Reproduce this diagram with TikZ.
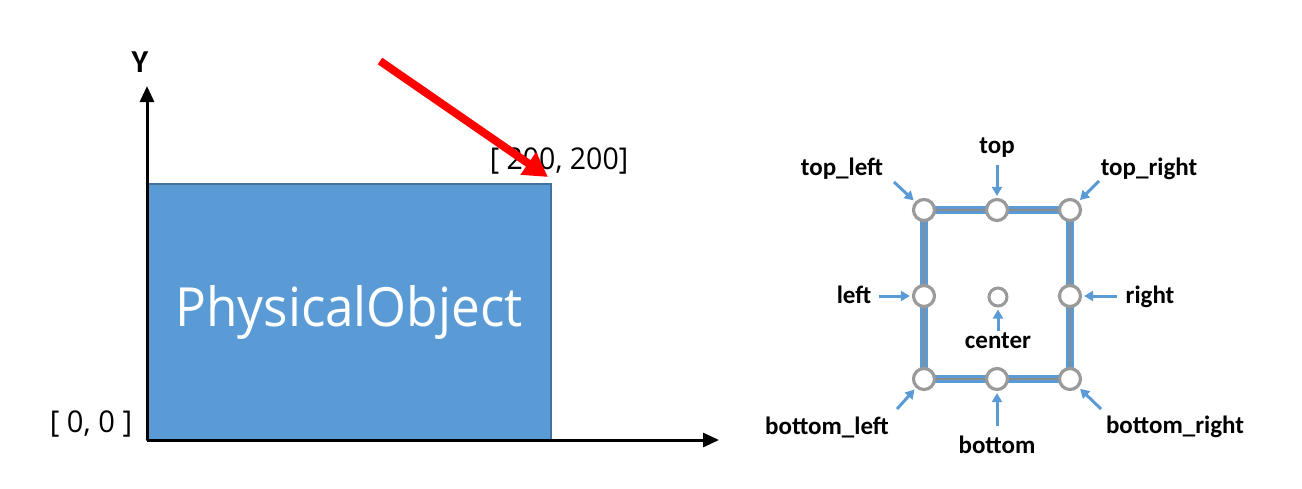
\documentclass[tikz,border=0pt]{standalone}
\usepackage{fontspec}
\setmainfont{Open Sans}
\newfontfamily\lblfont{Carlito}
\usetikzlibrary{arrows.meta,backgrounds}
\definecolor{objblue}{HTML}{5B9BD5}
\definecolor{objedge}{HTML}{41719C}
\definecolor{ptgray}{HTML}{9A9A9A}
\definecolor{edgegray}{HTML}{8C8C8C}
\tikzset{
  axis/.style={line width=3pt,-{Triangle[length=16pt,width=14pt]}},
  objbox/.style={draw=objedge,line width=1.5pt,fill=objblue,inner sep=0pt},
  redarrow/.style={draw=red,line width=8pt,-{Triangle[length=24pt,width=26pt]}},
  anchorpt/.style={circle,draw=ptgray,line width=3.2pt,fill=white,minimum size=21pt,inner sep=0pt},
  smallpt/.style={circle,draw=ptgray,line width=3pt,fill=white,minimum size=18pt,inner sep=0pt},
  lbl/.style={font=\lblfont\bfseries\fontsize{25pt}{28pt}\selectfont,inner sep=0pt},
  barrow/.style={draw=objblue,line width=3pt,-{Triangle[length=9pt,width=10pt]},shorten >=2pt},
  coordtxt/.style={font=\fontsize{30pt}{34pt}\selectfont,inner sep=0pt}
}
\begin{document}
\begin{tikzpicture}[x=1pt,y=-1pt]
\useasboundingbox (0,0) rectangle (1302,488);
% ---------- left diagram ----------
\node[objbox,minimum width=404pt,minimum height=256pt] (obj) at (349,312)
  {\color{white}\fontsize{54pt}{60pt}\selectfont\scalebox{0.95}[1]{PhysicalObject}};
\coordinate (origin) at (147,440);
\coordinate (yend) at (147,86);
\coordinate (xend) at (719,440);
\draw[axis] (origin) -- (yend);
\draw[axis] (origin) -- (xend);
\node[font=\lblfont\bfseries\fontsize{32pt}{36pt}\selectfont,inner sep=0pt] (ylab) at (140,62) {Y};
\node[coordtxt] (c00) at (91,424) {\scalebox{0.97}[1]{[ 0, 0 ]}};
\node[coordtxt] (c200) at (559,161) {\scalebox{0.95}[1]{[ 200, 200]}};
\coordinate (rs) at (380,61);
\coordinate (rt) at (548,177);
\draw[redarrow] (rs) -- (rt);
% ---------- right diagram ----------
\node[anchorpt] (tl) at (924,210) {};
\node[anchorpt] (tp) at (997,210) {};
\node[anchorpt] (tr) at (1070,210) {};
\node[anchorpt] (lf) at (924,296) {};
\node[smallpt]  (ct) at (998,297) {};
\node[anchorpt] (rt2) at (1070,296) {};
\node[anchorpt] (bl) at (924,379) {};
\node[anchorpt] (bt) at (997,379) {};
\node[anchorpt] (br) at (1070,379) {};
\begin{pgfonlayer}{background}
  \draw[objblue,line width=8pt] (tl.center) -- (tr.center) -- (br.center) -- (bl.center) -- cycle;
  \draw[edgegray,line width=2.5pt] (tl.center) -- (tr.center) -- (br.center) -- (bl.center) -- cycle;
\end{pgfonlayer}
% labels
\node[lbl] (Ltop) at (997,148) {top};
\node[lbl] (Ltl) at (842,169) {top\_left};
\node[lbl] (Ltr) at (1149,169) {top\_right};
\node[lbl] (Llf) at (854,295) {left};
\node[lbl] (Lrt) at (1150,297) {right};
\node[lbl] (Lct) at (998,341) {center};
\node[lbl] (Lbl) at (827,427) {bottom\_left};
\node[lbl] (Lbt) at (997,445) {bottom};
\node[lbl] (Lbr) at (1175,427) {bottom\_right};
% arrow starts
\coordinate (atp) at (997,165);
\coordinate (atl) at (894,182);
\coordinate (atr) at (1099,181);
\coordinate (alf) at (879,296);
\coordinate (art) at (1117,296);
\coordinate (act) at (998,331);
\coordinate (abl) at (897,409);
\coordinate (abt) at (997,426);
\coordinate (abr) at (1101,409);
\draw[barrow] (atp) -- (tp);
\draw[barrow] (atl) -- (tl);
\draw[barrow] (atr) -- (tr);
\draw[barrow] (alf) -- (lf);
\draw[barrow] (art) -- (rt2);
\draw[barrow] (act) -- (ct);
\draw[barrow] (abl) -- (bl);
\draw[barrow] (abt) -- (bt);
\draw[barrow] (abr) -- (br);
\end{tikzpicture}
\end{document}
